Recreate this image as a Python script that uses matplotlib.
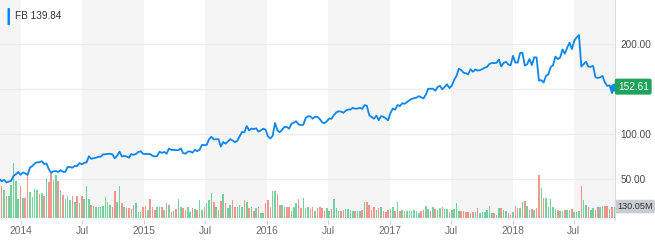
import numpy as np
import pandas as pd
import matplotlib
matplotlib.use('Agg')
import matplotlib.pyplot as plt
import matplotlib.transforms as mtrans
from matplotlib.patches import FancyBboxPatch

plt.rcParams['font.family'] = ['Liberation Sans', 'DejaVu Sans']

# weekly closes of FB (USD), one per week starting 2013-10-28
prices = [
    50.0, 47.5, 49.0, 46.2, 47.0, 47.9, 53.3, 55.1, 57.7, 54.6,
    57.2, 56.3, 54.5, 62.6, 64.3, 67.1, 68.6, 68.5, 69.8, 66.6,
    67.2, 60.9, 56.8, 58.5, 58.9, 57.7, 59.8, 57.9, 58.0, 63.3,
    63.3, 62.5, 64.5, 64.3, 67.6, 66.3, 67.9, 68.4, 75.2, 72.4,
    73.1, 73.6, 74.6, 74.8, 77.3, 77.5, 77.9, 78.0, 77.4, 72.9,
    75.9, 80.4, 75.0, 75.6, 75.0, 73.6, 77.7, 76.8, 77.8, 79.9,
    80.8, 78.0, 77.7, 77.8, 77.7, 75.9, 74.9, 75.7, 80.2, 79.0,
    80.0, 78.1, 83.8, 82.3, 82.3, 82.0, 82.0, 84.0, 78.8, 78.1,
    80.4, 80.6, 79.2, 82.4, 80.9, 82.5, 87.9, 87.5, 87.9, 94.0,
    96.9, 94.0, 94.2, 94.3, 86.1, 91.0, 89.3, 91.6, 94.3, 92.8,
    90.9, 92.4, 97.5, 102.2, 102.0, 108.8, 103.9, 106.0, 105.5, 106.2,
    102.6, 104.0, 105.9, 104.7, 97.3, 95.0, 97.9, 112.2, 104.1, 102.0,
    104.6, 107.9, 107.7, 105.9, 111.5, 112.6, 114.1, 110.6, 109.9, 110.3,
    117.6, 119.8, 119.5, 117.0, 119.3, 118.9, 116.6, 113.0, 112.0, 114.2,
    117.2, 116.9, 121.0, 123.9, 125.2, 124.9, 123.6, 125.9, 127.1, 127.1,
    129.1, 128.0, 128.3, 129.0, 127.9, 132.1, 131.3, 120.8, 119.0, 117.0,
    120.4, 115.4, 119.7, 119.2, 117.3, 115.1, 123.4, 128.3, 127.0, 132.2,
    131.0, 134.2, 133.5, 135.4, 137.4, 139.0, 139.8, 140.3, 142.1, 140.8,
    139.4, 143.7, 150.3, 150.2, 150.3, 148.1, 152.1, 153.6, 149.6, 152.4,
    155.1, 151.0, 153.5, 160.0, 164.4, 172.5, 171.2, 168.1, 167.4, 166.3,
    172.0, 169.2, 171.7, 170.5, 170.9, 172.2, 173.7, 174.6, 177.9, 178.9,
    178.8, 179.0, 182.8, 175.1, 179.0, 180.2, 177.2, 176.5, 186.9, 179.4,
    179.3, 190.0, 190.3, 176.1, 177.4, 183.3, 176.6, 185.2, 185.1, 159.4,
    159.8, 157.2, 164.5, 166.3, 174.2, 176.6, 186.0, 183.2, 184.9, 194.0,
    189.1, 195.9, 201.5, 194.3, 203.7, 207.3, 209.9, 174.9, 177.8, 180.3,
    174.7, 174.7, 175.7, 163.0, 162.3, 162.9, 164.5, 157.3, 153.4, 154.1,
    145.4, 151.8,
]

# weekly volume in millions
volumes = [
    410, 365, 316, 250, 250, 373, 620, 420, 215, 365,
    226, 226, 486, 297, 240, 328, 316, 271, 286, 250,
    455, 410, 520, 430, 486, 418, 316, 260, 215, 250,
    200, 250, 180, 250, 170, 250, 215, 360, 215, 147,
    135, 125, 125, 125, 135, 237, 180, 147, 125, 308,
    180, 365, 170, 125, 115, 115, 100, 147, 170, 70,
    70, 125, 135, 90, 215, 125, 90, 125, 125, 125,
    90, 170, 147, 70, 80, 100, 215, 125, 115, 90,
    125, 70, 115, 100, 90, 200, 90, 125, 170, 200,
    286, 180, 125, 90,
    188, 275, 170, 113, 150, 200, 125, 125, 150, 125,
    200, 180, 113, 125, 75, 113, 125, 56, 56, 170,
    200, 125, 308, 300, 275, 150, 150, 125, 125, 125,
    75, 125, 170, 215, 113, 226, 113, 125, 100, 125,
    75, 113, 125, 113, 75, 113, 75, 100, 215, 113,
    75, 75, 87, 100, 100, 87, 75, 75, 75, 75,
    87, 180, 180, 150, 94, 125, 94, 113, 125, 75,
    63, 94, 100, 125, 75, 180, 75, 94, 75, 75,
    75, 75, 94, 75, 56, 75, 94, 135, 100, 75,
    125, 100,
    87, 113, 125, 100, 100, 63, 87, 100, 170, 75,
    75, 75, 63, 63, 56, 63, 63, 113, 56, 63,
    63, 87, 139, 56, 56, 38, 113, 113, 87, 75,
    56, 38, 63, 140, 113, 113, 180, 195, 135, 94,
    100, 94, 113, 490, 340, 226, 226, 125, 220, 125,
    100, 94, 75, 75, 94, 87, 94, 100, 63, 63,
    75, 360, 205, 150, 125, 87, 113, 94, 125, 125,
    135, 135, 135, 100, 125, 130,
]

dates = pd.date_range('2013-10-28', periods=len(prices), freq='7D')
price_ticks = [50, 100, 150, 200]
tick_dates = pd.to_datetime(['2014-01-01', '2014-07-01', '2015-01-01', '2015-07-01',
                             '2016-01-01', '2016-07-01', '2017-01-01', '2017-07-01',
                             '2018-01-01', '2018-07-01'])
tick_labels = ['2014', 'Jul', '2015', 'Jul', '2016', 'Jul', '2017', 'Jul', '2018', 'Jul']

x0, x1 = pd.Timestamp('2013-10-30'), pd.Timestamp('2018-10-31')

fig = plt.figure(figsize=(6.55, 2.4), dpi=100)
ax = fig.add_axes([0, 20 / 240, 615 / 655, 220 / 240])
ax2 = ax.twinx()

# alternating half-year bands
edges = [x0] + list(tick_dates) + [x1]
for k in range(len(edges) - 1):
    if k % 2 == 0:
        ax.axvspan(edges[k], edges[k + 1], color='#f5f5f5', lw=0, zorder=0)

# gridlines in price units, drawn behind the bars
trans = mtrans.blended_transform_factory(ax.transAxes, ax2.transData)
for p in price_ticks:
    ax.plot([0, 1], [p, p], transform=trans, color='#ececec', lw=0.8, zorder=0.5)

up = [True] + [prices[i] >= prices[i - 1] for i in range(1, len(prices))]
bar_colors = ['#3fc27c' if u else '#f26d66' for u in up]
ax.bar(dates, volumes, width=4.6, color=bar_colors, alpha=0.72, lw=0, zorder=1)
ax.set_ylim(-22, 2463)
ax.set_yticks([])
ax.set_xlim(x0, x1)
ax.set_xticks(tick_dates)
ax.set_xticklabels(tick_labels)
ax.tick_params(axis='x', length=3, color='#cfcfcf', labelcolor='#6b6b6b',
               labelsize=7.4, pad=1.5)
for s in ax.spines.values():
    s.set_visible(False)

ax2.plot(dates, prices, color='#0a86f0', lw=1.3, zorder=3)
ax2.plot(dates[-1], prices[-1], 'o', ms=4.5, color='#0a86f0', clip_on=False, zorder=4)
ax2.set_ylim(4.4, 248.9)
ax2.set_yticks(price_ticks)
# the 150 label sits under the last-price badge
ax2.set_yticklabels(['' if p == 150 else '%.2f' % p for p in price_ticks])
ax2.tick_params(axis='y', length=0, pad=4, labelsize=7.2, labelcolor='#4a4a4a')
for side, s in ax2.spines.items():
    s.set_visible(side == 'right')
ax2.spines['right'].set_color('#dcdcdc')
ax2.spines['right'].set_linewidth(0.8)
ax2.set_xlim(x0, x1)

# last price badge
ax2.annotate('152.61', xy=(1, 152.61),
             xycoords=mtrans.blended_transform_factory(ax2.transAxes, ax2.transData),
             xytext=(2, 0), textcoords='offset points', ha='left', va='center',
             color='white', fontsize=7.2, annotation_clip=False, zorder=6,
             bbox=dict(boxstyle='round,pad=0.3,rounding_size=0.2', fc='#1fa35a', ec='none'))
# last volume badge
ax.annotate('130.05M', xy=(1, 130.05),
            xycoords=mtrans.blended_transform_factory(ax.transAxes, ax.transData),
            xytext=(1.5, 0), textcoords='offset points', ha='left', va='center',
            color='#333333', fontsize=6.6, annotation_clip=False, zorder=6,
            bbox=dict(boxstyle='round,pad=0.25,rounding_size=0.2', fc='#c9ccd2', ec='none'))

# legend label top-left
fig.patches.append(FancyBboxPatch((7.5 / 655, 1 - 25 / 240), 2.5 / 655, 17 / 240,
                                  boxstyle='round,pad=0,rounding_size=0.002',
                                  transform=fig.transFigure, fc='#0a86f0', ec='none'))
fig.text(15 / 655, 1 - 16 / 240, 'FB 139.84', ha='left', va='center',
         fontsize=7.2, color='#333333')

fig.savefig('out.png', dpi=100)
